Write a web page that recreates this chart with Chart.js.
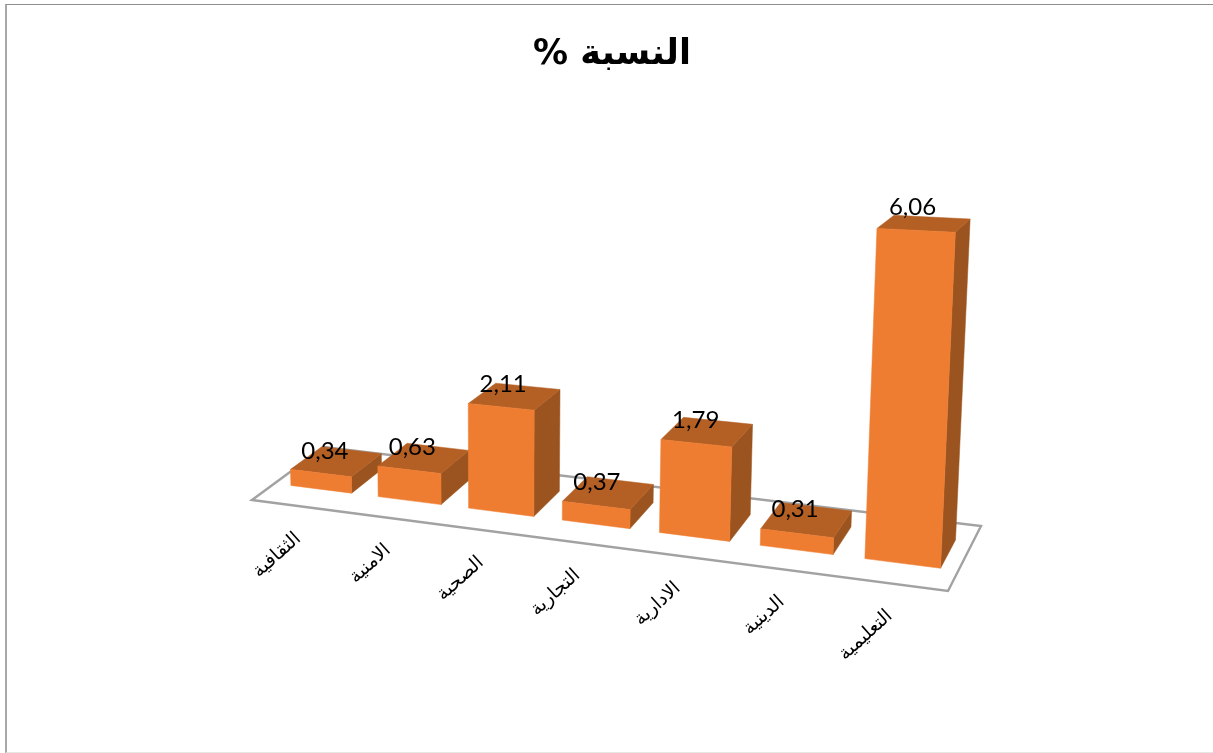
<!DOCTYPE html>
<html><head><meta charset="utf-8">
<script src="https://cdn.jsdelivr.net/npm/chart.js@4"></script>
<style>
html,body{margin:0;padding:0;background:#fff;overflow:hidden}
#wrap{position:relative;width:1213px;height:753px}
#frame{position:absolute;left:5px;top:4px;right:0;bottom:0;border-top:1px solid #8e8e8e;border-left:2px solid #a8a8a8;border-bottom:1px solid #e6e6e6}
canvas{position:absolute;left:0;top:0;direction:rtl}
</style></head><body>
<div id="wrap"><div id="frame"></div><canvas id="c" width="1213" height="753"></canvas></div>
<script>
const categories = ["الثقافية","الامنية","الصحية","التجارية","الادارية","الدينية","التعليمية"];
const values = [0.34,0.63,2.11,0.37,1.79,0.31,6.06];
const valueText = ["0,34","0,63","2,11","0,37","1,79","0,31","6,06"];
const titleText = "النسبة %";

// Floor quad used as the perspective of the 3D view
const Q=[[252,500],[948,591],[981,526],[324,447]];
const H=(()=>{const [p0,p1,p2,p3]=Q;
 const dx1=p1[0]-p2[0],dx2=p3[0]-p2[0],sx=p0[0]-p1[0]+p2[0]-p3[0];
 const dy1=p1[1]-p2[1],dy2=p3[1]-p2[1],sy=p0[1]-p1[1]+p2[1]-p3[1];
 const den=dx1*dy2-dx2*dy1,g=(sx*dy2-dx2*sy)/den,h=(dx1*sy-sx*dy1)/den;
 return {a:p1[0]-p0[0]+g*p1[0],b:p3[0]-p0[0]+h*p3[0],c:p0[0],d:p1[1]-p0[1]+g*p1[1],e:p3[1]-p0[1]+h*p3[1],f:p0[1],g,h};})();
const D0=0.30,D1=0.74,UNIT=48.6;
const warp=u=>u+0.0186*(u-0.2)*(u-1.2)+0.0012;
function project(u,d,v){
 const w=H.g*u+H.h*d+1;
 const x=(H.a*u+H.b*d+H.c)/w,y=(H.d*u+H.e*d+H.f)/w;
 const hp=v*UNIT/Math.pow(w,1.5);
 return [x+hp*(x-500)*1e-4,y-hp];
}
function poly(ctx,pts,fill){ctx.beginPath();pts.forEach((p,i)=>i?ctx.lineTo(p[0],p[1]):ctx.moveTo(p[0],p[1]));ctx.closePath();ctx.fillStyle=fill;ctx.fill();ctx.lineWidth=.5;ctx.strokeStyle=fill;ctx.stroke();}

const bar3d={id:'bar3d',
 beforeDatasetsDraw(chart){
  const ctx=chart.ctx;ctx.save();
  ctx.beginPath();Q.forEach((p,i)=>i?ctx.lineTo(p[0],p[1]):ctx.moveTo(p[0],p[1]));ctx.closePath();
  ctx.fillStyle='#fff';ctx.fill();ctx.strokeStyle='#a2a2a2';ctx.lineWidth=2.4;ctx.lineJoin='miter';ctx.stroke();
  ctx.restore();
 },
 beforeDatasetDraw(chart,args){
  const ctx=chart.ctx,a=chart.chartArea,y=chart.scales.y,meta=args.meta;
  const U=px=>warp((px-a.left)/a.width);
  ctx.save();
  meta.data.forEach((el,i)=>{
   const p=el.getProps(['x','y','base','width'],true);
   const u0=U(p.x-p.width/2),u1=U(p.x+p.width/2);
   const val=y.getValueForPixel(p.y);
   const bfl=project(u0,D0,0),bfr=project(u1,D0,0),bbr=project(u1,D1,0);
   const tfl=project(u0,D0,val),tfr=project(u1,D0,val),tbr=project(u1,D1,val),tbl=project(u0,D1,val);
   poly(ctx,[tfr,tbr,bbr,bfr],'#9b541f');
   poly(ctx,[tfl,tbl,tbr,tfr],'#b45f23');
   poly(ctx,[bfl,bfr,tfr,tfl],'#ee7d31');
  });
  ctx.restore();
  return false;
 },
 afterDatasetsDraw(chart){
  const ctx=chart.ctx,a=chart.chartArea,xs=chart.scales.x,y=chart.scales.y,meta=chart.getDatasetMeta(0);
  const U=px=>warp((px-a.left)/a.width);
  ctx.save();
  meta.data.forEach((el,i)=>{
   const p=el.getProps(['x','y','width'],true);
   const u0=U(p.x-p.width/2),u1=U(p.x+p.width/2),val=y.getValueForPixel(p.y);
   const c1=project(u0,D0,val),c2=project(u1,D1,val);
   ctx.direction='ltr';ctx.textAlign='center';ctx.textBaseline='middle';
   ctx.fillStyle='#000';ctx.font='24px Lato';
   ctx.fillText(valueText[i],(c1[0]+c2[0])/2-11,(c1[1]+c2[1])/2-10-val);
   // category labels along the floor's front edge
   const f=project(U(xs.getPixelForTick(i)),0,0);
   ctx.save();
   ctx.translate(f[0]-1,f[1]+30);
   ctx.rotate(-42*Math.PI/180);
   ctx.direction='rtl';ctx.textAlign='right';ctx.textBaseline='middle';
   ctx.font='19px "DejaVu Sans"';ctx.fillStyle='#000';
   ctx.fillText(chart.data.labels[i],0,0);
   ctx.restore();
  });
  ctx.restore();
 }
};

new Chart(document.getElementById('c'),{
 type:'bar',
 data:{labels:categories,datasets:[{label:titleText,data:values,backgroundColor:'#ee7d31',barPercentage:0.7,categoryPercentage:1}]},
 options:{responsive:false,animation:false,
  layout:{padding:{left:265,right:254,top:20,bottom:160}},
  scales:{x:{display:false},y:{display:false,min:0,max:7}},
  plugins:{legend:{display:false},tooltip:{enabled:false},
   title:{display:true,text:titleText,color:'#000',font:{family:'"DejaVu Sans"',size:35,weight:'bold'},padding:{top:14,bottom:10}}}
 },
 plugins:[bar3d]
});
</script></body></html>
